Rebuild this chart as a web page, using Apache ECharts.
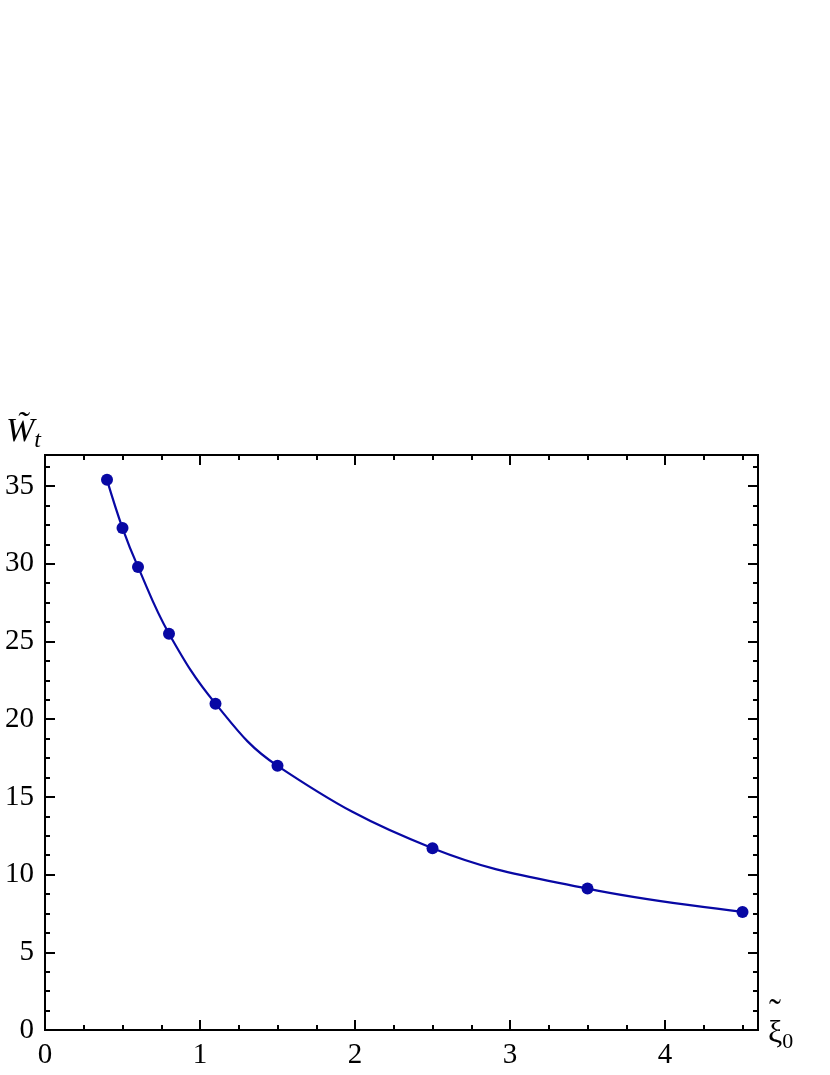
<!DOCTYPE html>
<html>
<head>
<meta charset="utf-8">
<script src="https://cdn.jsdelivr.net/npm/echarts@6/dist/echarts.min.js"></script>
<style>
  html, body { margin: 0; padding: 0; background: #fff; }
  #chart { width: 830px; height: 1075px; }
</style>
</head>
<body>
<div id="chart"></div>
<script>
  // data
  let xiValues = [0.4, 0.5, 0.6, 0.8, 1.1, 1.5, 2.5, 3.5, 4.5]
  let wValues = [35.4, 32.3, 29.8, 25.5, 21.0, 17.0, 11.7, 9.1, 7.6]
  let xRange = [0, 4.6]
  let yRange = [0, 37]

  let points = xiValues.map(function (x, i) { return [x, wValues[i]] })

  let font = 'Liberation Serif'
  let axisColor = '#000'
  let curveColor = '#0808a4'

  // one axis per side and tick size; labels only on bottom/left majors
  function makeAxis(pos, range, interval, tickLen, withLabel, extra) {
    let ax = {
      type: 'value',
      position: pos,
      min: range[0],
      max: range[1],
      interval: interval,
      splitLine: { show: false },
      axisLine: { show: true, onZero: false, lineStyle: { color: axisColor, width: 2 } },
      axisTick: { show: true, inside: true, length: tickLen, lineStyle: { color: axisColor, width: 2 } },
      axisLabel: {
        show: withLabel,
        showMaxLabel: false,
        fontFamily: font,
        fontSize: 29,
        color: '#000',
        margin: 11
      }
    }
    return Object.assign(ax, extra || {})
  }

  let option = {
    backgroundColor: '#fff',
    animation: false,
    grid: { left: 45, right: 72, top: 455, bottom: 45, containLabel: false },
    xAxis: [
      makeAxis('bottom', xRange, 1, 10, true, {
        name: '{t|˜}\n{x|ξ}{s|0}',
        nameLocation: 'end',
        nameGap: 10,
        nameTextStyle: {
          align: 'left',
          verticalAlign: 'middle',
          padding: [0, 0, 0, 0],
          rich: {
            t: { fontFamily: font, fontSize: 36, color: '#000', lineHeight: 8, padding: [0, 0, 0, 1] },
            x: { fontFamily: font, fontSize: 32, color: '#000', lineHeight: 30 },
            s: { fontFamily: font, fontSize: 22, color: '#000', lineHeight: 30, padding: [16, 0, 0, 0] }
          }
        }
      }),
      makeAxis('bottom', xRange, 0.25, 5, false),
      makeAxis('top', xRange, 1, 10, false),
      makeAxis('top', xRange, 0.25, 5, false)
    ],
    yAxis: [
      makeAxis('left', yRange, 5, 10, true, {
        name: '{w|W̃}{t|t}',
        nameLocation: 'end',
        nameGap: 2,
        nameTextStyle: {
          align: 'right',
          padding: [0, 4, 0, 0],
          rich: {
            w: { fontFamily: font, fontStyle: 'italic', fontSize: 34, color: '#000' },
            t: { fontFamily: font, fontStyle: 'italic', fontSize: 24, color: '#000', padding: [18, 0, 0, 0] }
          }
        }
      }),
      makeAxis('left', yRange, 1.25, 5, false),
      makeAxis('right', yRange, 5, 10, false),
      makeAxis('right', yRange, 1.25, 5, false)
    ],
    series: [{
      type: 'line',
      xAxisIndex: 0,
      yAxisIndex: 0,
      data: points,
      smooth: 0.4,
      symbol: 'circle',
      symbolSize: 12,
      lineStyle: { color: curveColor, width: 2.2 },
      itemStyle: { color: curveColor }
    }]
  }

  let myChart = echarts.init(document.getElementById('chart'))
  myChart.setOption(option)
</script>
</body>
</html>
